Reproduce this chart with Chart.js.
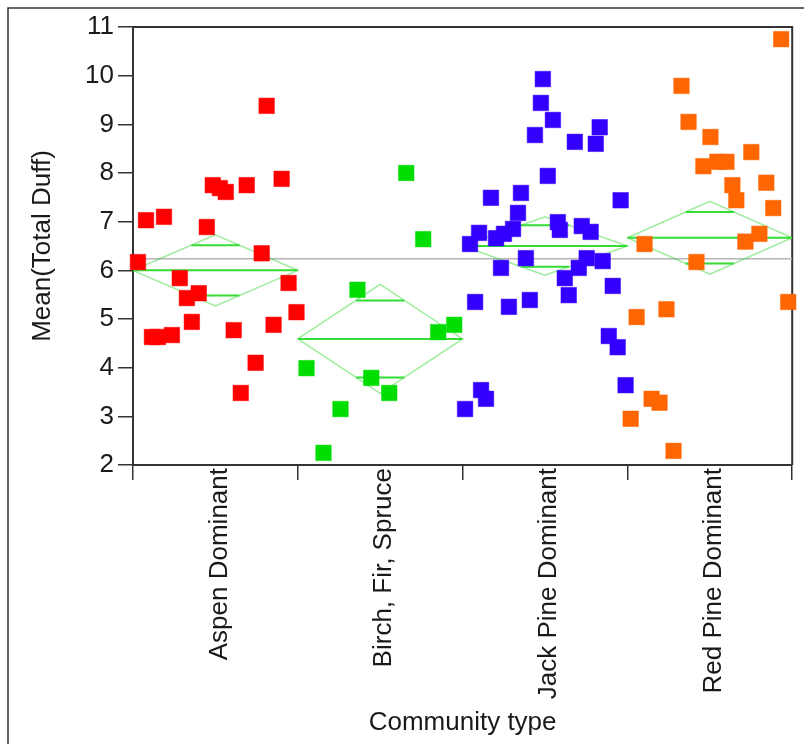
<!DOCTYPE html>
<html>
<head>
<meta charset="utf-8">
<script src="https://cdn.jsdelivr.net/npm/chart.js@4.4.1/dist/chart.umd.min.js"></script>
<style>
  html, body { margin: 0; padding: 0; background: #fff; }
  #wrap { width: 804px; height: 744px; }
</style>
</head>
<body>
<div id="wrap"><canvas id="duffChart"></canvas></div>
<script>
const categories = ['Aspen Dominant', 'Birch, Fir, Spruce', 'Jack Pine Dominant', 'Red Pine Dominant'];

// total duff per plot; jitter = horizontal spot inside the category band (0..1)
const aspenDuff   = [6.17, 7.03, 4.63, 4.63, 7.10, 4.67, 5.84, 5.43, 4.94, 5.53, 6.89, 7.75, 7.69, 7.61, 4.77, 3.48, 7.75, 4.10, 6.35, 9.38, 4.88, 7.88, 5.74, 5.14];
const aspenJitter = [0.030, 0.079, 0.115, 0.151, 0.188, 0.236, 0.284, 0.327, 0.357, 0.399, 0.448, 0.484, 0.527, 0.563, 0.611, 0.654, 0.690, 0.744, 0.781, 0.811, 0.853, 0.902, 0.944, 0.992];

const birchDuff   = [3.99, 2.25, 3.15, 5.60, 3.79, 3.48, 8.00, 6.64, 4.73, 4.88];
const birchJitter = [0.053, 0.156, 0.259, 0.362, 0.446, 0.555, 0.658, 0.761, 0.852, 0.949];

const jackDuff   = [3.15, 6.54, 5.35, 6.77, 3.54, 3.36, 7.49, 6.66, 6.05, 6.75, 5.25, 6.85, 7.18, 7.59, 6.25, 5.39, 8.78, 9.44, 9.93,
                    7.94, 9.09, 6.99, 6.83, 5.84, 5.49, 8.64, 6.05, 6.91, 6.25, 6.79, 8.60, 8.94, 6.19, 4.65, 5.68, 4.42, 7.44, 3.64];
const jackJitter = [0.015, 0.045, 0.076, 0.100, 0.112, 0.142, 0.172, 0.203, 0.233, 0.251, 0.281, 0.306, 0.336, 0.354, 0.384, 0.408, 0.439, 0.475, 0.487,
                    0.517, 0.548, 0.578, 0.590, 0.620, 0.644, 0.681, 0.705, 0.723, 0.753, 0.777, 0.808, 0.832, 0.850, 0.887, 0.911, 0.941, 0.959, 0.989];

const redDuff   = [2.95, 5.04, 6.54, 3.36, 3.28, 5.20, 2.29, 9.79, 9.05, 6.17, 8.14, 8.74, 8.23, 8.23, 7.75, 7.44, 6.59, 8.43, 6.75, 7.80, 7.28, 10.75, 5.35];
const redJitter = [0.020, 0.056, 0.104, 0.147, 0.195, 0.237, 0.280, 0.328, 0.371, 0.419, 0.461, 0.504, 0.546, 0.601, 0.637, 0.661, 0.716, 0.752, 0.801, 0.843, 0.885, 0.933, 0.976];

// group means, 95% CI half-widths and the grand mean
const groupMeans = [6.00, 4.59, 6.50, 6.67];
const groupCI    = [0.73, 1.12, 0.60, 0.75];
const grandMean  = 6.24;

const groupColors = ['#ff0000', '#00dd00', '#3300ff', '#ff6600'];
const groups = [
  [aspenDuff, aspenJitter],
  [birchDuff, birchJitter],
  [jackDuff, jackJitter],
  [redDuff, redJitter]
];

const textFont = { family: "'Liberation Sans', Arial, sans-serif", size: 26 };
const ink = '#1a1a1a';

// points sit at category index + jitter on a 0..4 linear axis
const pointSets = groups.map(([vals, jit], i) => ({
  data: vals.map((v, k) => ({ x: i + jit[k], y: v })),
  pointStyle: 'rect',
  pointRadius: 11,
  backgroundColor: groupColors[i],
  borderColor: groupColors[i] + '99',
  borderWidth: 0.8,
  clip: false,
  order: 0
}));

// means diamonds, mean lines and overlap marks, segments split by null gaps
const diamondPts = [], meanPts = [], overlapPts = [];
groupMeans.forEach((m, i) => {
  const ci = groupCI[i];
  diamondPts.push({ x: i, y: m }, { x: i + 0.5, y: m + ci }, { x: i + 1, y: m },
                  { x: i + 0.5, y: m - ci }, { x: i, y: m }, { x: i + 0.5, y: null });
  meanPts.push({ x: i, y: m }, { x: i + 1, y: m }, { x: i + 0.5, y: null });
  const d = ci / Math.SQRT2;
  const hw = 0.5 * (1 - 1 / Math.SQRT2);
  overlapPts.push({ x: i + 0.5 - hw, y: m + d }, { x: i + 0.5 + hw, y: m + d }, { x: i + 0.5, y: null },
                  { x: i + 0.5 - hw, y: m - d }, { x: i + 0.5 + hw, y: m - d }, { x: i + 0.5, y: null });
});

const lineSet = (data, color, width) => ({
  data, showLine: true, spanGaps: false, pointRadius: 0,
  borderColor: color, borderWidth: width, order: 1
});

const framePlugin = {
  id: 'frame',
  beforeDraw(chart) {
    const ctx = chart.ctx;
    ctx.save();
    ctx.fillStyle = '#fff';
    ctx.fillRect(0, 0, chart.width, chart.height);
    ctx.strokeStyle = '#333';
    ctx.lineWidth = 1.5;
    ctx.strokeRect(8, 8, chart.width + 40, chart.height + 40);
    ctx.restore();
  },
  beforeDatasetsDraw(chart) {
    const { ctx, chartArea: a } = chart;
    ctx.save();
    ctx.strokeStyle = '#333';
    ctx.lineWidth = 2;
    ctx.beginPath();
    ctx.moveTo(a.left, a.top);
    ctx.lineTo(a.right, a.top);
    ctx.lineTo(a.right, a.bottom);
    ctx.stroke();
    ctx.restore();
  }
};

new Chart(document.getElementById('duffChart'), {
  type: 'scatter',
  data: {
    datasets: [
      ...pointSets,
      lineSet(overlapPts, '#33dd33', 2),
      lineSet(meanPts, '#33dd33', 2),
      lineSet(diamondPts, 'rgba(40, 210, 40, 0.45)', 1.5),
      lineSet([{ x: 0, y: grandMean }, { x: 4, y: grandMean }], '#b4b4b4', 1.5)
    ]
  },
  options: {
    responsive: true,
    maintainAspectRatio: false,
    animation: false,
    events: [],
    layout: { padding: { top: 27, right: 10, left: 0, bottom: 0 } },
    plugins: { legend: { display: false }, tooltip: { enabled: false } },
    scales: {
      x: {
        type: 'linear',
        min: 0,
        max: 4,
        afterBuildTicks: s => { s.ticks = [0, 0.5, 1, 1.5, 2, 2.5, 3, 3.5, 4].map(v => ({ value: v })); },
        afterFit: s => { s.height = 279; s.paddingRight = 0; s.paddingLeft = 0; },
        ticks: {
          autoSkip: false,
          minRotation: 90,
          maxRotation: 90,
          padding: -12,
          labelOffset: 4,
          color: ink,
          font: textFont,
          callback: v => Number.isInteger(v) ? '' : categories[Math.floor(v)]
        },
        grid: {
          drawOnChartArea: false,
          tickLength: 15,
          lineWidth: 1.5,
          color: c => (c.tick && Number.isInteger(c.tick.value)) ? '#333' : 'rgba(0,0,0,0)'
        },
        border: { color: '#333', width: 2 },
        title: { display: true, text: 'Community type', color: ink, font: textFont, padding: { top: 0, bottom: 6 } }
      },
      y: {
        min: 2,
        max: 11,
        afterFit: s => { s.width = 133; },
        ticks: { stepSize: 1, padding: 4, color: ink, font: textFont },
        grid: { drawOnChartArea: false, tickLength: 15, lineWidth: 1.5, color: '#333' },
        border: { color: '#333', width: 2 },
        title: { display: true, text: 'Mean(Total Duff)', color: ink, font: textFont, padding: { top: 27, bottom: 0 } }
      }
    }
  },
  plugins: [framePlugin]
});
</script>
</body>
</html>
